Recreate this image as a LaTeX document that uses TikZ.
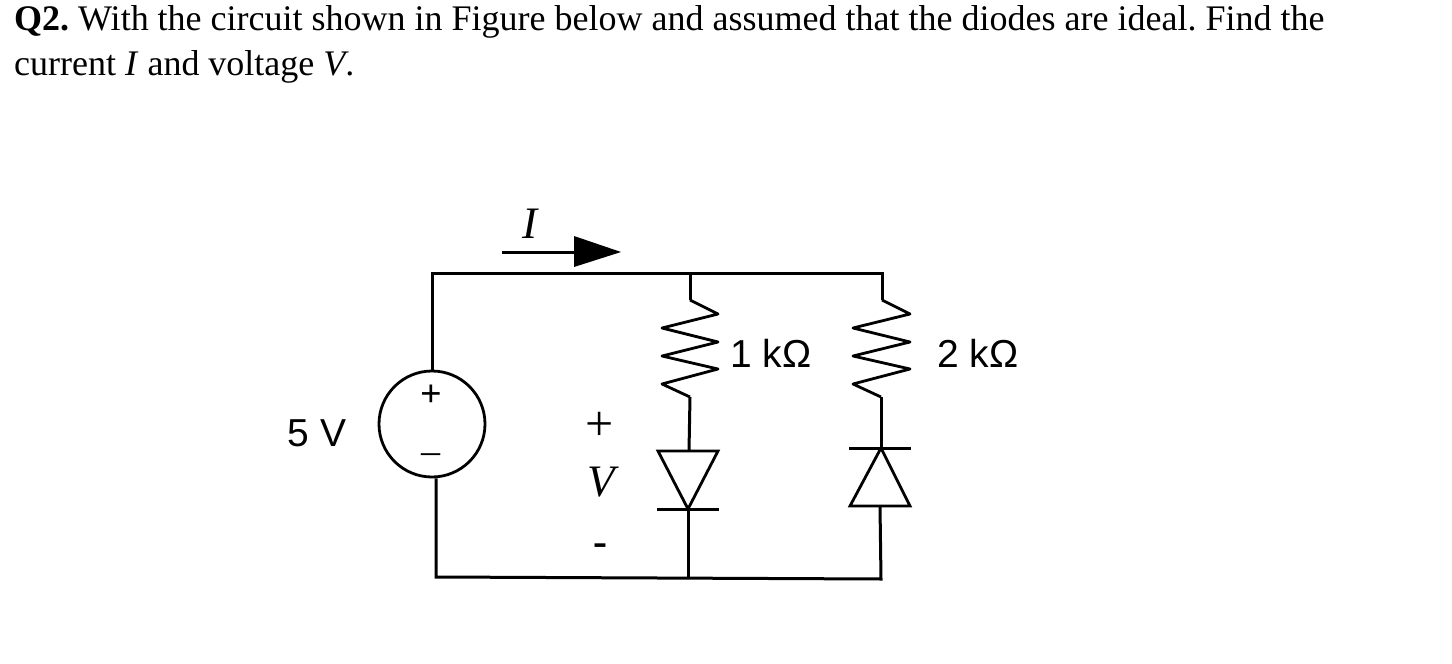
\documentclass[tikz,border=0pt]{standalone}
\usepackage{fontspec}
\setmainfont{Liberation Serif}
\newfontfamily\arialfont{Liberation Sans}
\usetikzlibrary{calc}
\tikzset{
  wire/.style={draw=black,line width=3pt,line join=miter},
  thin wire/.style={draw=black,line width=2.8pt,line join=round},
  srcshape/.style={circle,draw=black,line width=2.8pt,minimum size=106pt,inner sep=0pt},
  heading/.style={anchor=base west,inner sep=0pt,font=\fontsize{36}{40}\selectfont\frenchspacing},
  value/.style={inner sep=0pt,font=\arialfont\fontsize{39}{40}\selectfont},
  symbol/.style={inner sep=0pt,font=\fontsize{45}{45}\selectfont\itshape},
}
\begin{document}
\begin{tikzpicture}[x=1pt,y=-1pt]
\useasboundingbox (0,0) rectangle (1452,664);
\fill[white] (0,0) rectangle (1452,664);
% heading
\node[heading] (line1) at (14,30) {\textbf{Q2.} With the circuit shown in Figure below and assumed that the diodes are ideal. Find the};
\node[heading] (line2) at (14,75) {current \textit{I} and voltage \textit{V}.};
% junctions
\coordinate (tl) at (432,273);
\coordinate (tm) at (690,273);
\coordinate (tr) at (882,273);
\coordinate (bl) at (436,577);
\coordinate (bm) at (688,578);
\coordinate (br) at (881,579);
\coordinate (r1a) at (690,300);
\coordinate (r1b) at (690,397);
\coordinate (r2a) at (882,300);
\coordinate (r2b) at (881,397);
\coordinate (d1a) at (689,451);
\coordinate (d1k) at (688,509);
\coordinate (d2k) at (881,448);
\coordinate (d2a) at (880,506);
% source
\node[srcshape] (src) at (432,424) {};
\node[inner sep=0pt,font=\bfseries\fontsize{38}{38}\selectfont] (srcplus) at (431,396) {+};
\node[inner sep=0pt,font=\fontsize{38}{38}\selectfont] (srcminus) at (431,459) {--};
% wires
\draw[wire] (src.north) -- (tl) -- (tr) -- (r2a);
\draw[wire] (tm) -- (r1a);
\draw[wire] (src.south -| bl) -- (bl) -- (br) -- (d2a);
\draw[wire] (bm) -- (d1k);
\draw[wire] (r1b) -- (d1a);
\draw[wire] (r2b) -- (d2k);
% resistors
\draw[thin wire] (r1a) -- (718,314) -- (662,328) -- (718,342) -- (662,356) -- (718,369) -- (662,384) -- (r1b);
\draw[thin wire] (r2a) -- (910,314) -- (853,328) -- (910,342) -- (853,356) -- (910,369) -- (853,384) -- (r2b);
% diodes
\draw[thin wire,line join=miter] (658,451) -- (718,451) -- (d1k) -- cycle;
\draw[wire] (657,509) -- (719,509);
\draw[thin wire,line join=miter] (850,506) -- (910,506) -- (d2k) -- cycle;
\draw[wire] (849,448) -- (911,448);
% current arrow
\coordinate (ia) at (502,252);
\coordinate (ib) at (575,252);
\draw[wire] (ia) -- (ib);
\fill[black] (574,236) -- (621,252) -- (574,267) -- cycle;
% labels
\node[symbol] (lI) at (530,224) {I};
\node[inner sep=0pt,font=\fontsize{50}{50}\selectfont] (lplus) at (600,426) {+};
\node[symbol] (lV) at (601,482) {V};
\node[inner sep=0pt,font=\bfseries\fontsize{42}{42}\selectfont] (lminus) at (600,550) {-};
\node[value] (l5) at (317,433) {5 V};
\node[value] (l1k) at (771,353) {1 kΩ};
\node[value] (l2k) at (978,353) {2 kΩ};
\end{tikzpicture}
\end{document}
